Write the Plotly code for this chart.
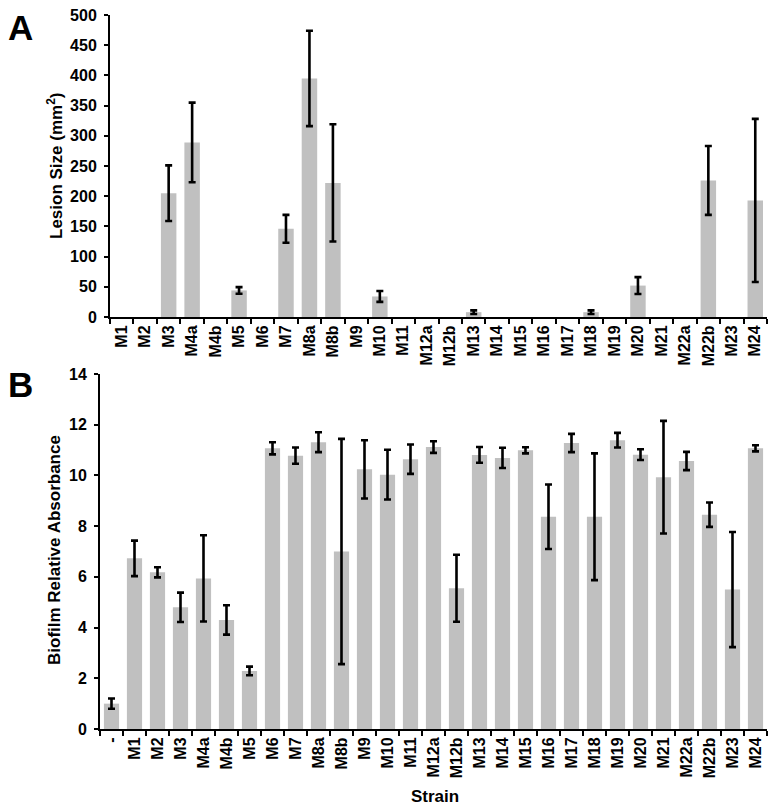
import plotly.graph_objects as go

# Panel A: lesion size
strains_a = ["M1","M2","M3","M4a","M4b","M5","M6","M7","M8a","M8b","M9","M10","M11",
             "M12a","M12b","M13","M14","M15","M16","M17","M18","M19","M20","M21",
             "M22a","M22b","M23","M24"]
lesion = [0,0,205,289,0,44,0,146,395,222,0,34,0,0,0,8,0,0,0,0,8,0,52,0,0,226,0,193]
lesion_err = [0,0,46,66,0,5.5,0,23,79,97,0,9,0,0,0,3,0,0,0,0,3,0,14,0,0,57,0,135]

# Panel B: biofilm
strains_b = ["-","M1","M2","M3","M4a","M4b","M5","M6","M7","M8a","M8b","M9","M10","M11",
             "M12a","M12b","M13","M14","M15","M16","M17","M18","M19","M20","M21",
             "M22a","M22b","M23","M24"]
biofilm = [1.0,6.73,6.18,4.8,5.94,4.3,2.29,11.07,10.78,11.31,7.0,10.24,10.03,10.64,
           11.12,5.55,10.81,10.69,10.99,8.37,11.28,8.37,11.39,10.82,9.93,10.57,8.45,5.5,11.07]
biofilm_err = [0.2,0.7,0.2,0.58,1.7,0.58,0.17,0.24,0.32,0.39,4.44,1.15,0.98,0.58,
               0.23,1.32,0.31,0.4,0.12,1.27,0.36,2.5,0.29,0.21,2.22,0.36,0.48,2.27,0.12]

BAR = "#c0c0c0"
FONT = "Liberation Sans"
OFF = 8  # default page body margin
W, H = 777 - OFF, 808 - OFF


def px(x):
    return (x - OFF) / W


def py(y):
    return 1 - (y - OFF) / H


fig = go.Figure()
fig.add_trace(go.Bar(
    x=strains_a, y=[v if v > 0 else None for v in lesion],
    marker=dict(color=BAR, line=dict(width=0)),
    error_y=dict(type="data", array=[e if e > 0 else None for e in lesion_err],
                 color="black", thickness=2.6, width=3.5),
    xaxis="x", yaxis="y", showlegend=False))
fig.add_trace(go.Bar(
    x=strains_b, y=biofilm, marker=dict(color=BAR, line=dict(width=0)),
    error_y=dict(type="data", array=biofilm_err, color="black", thickness=2.6, width=3.5),
    xaxis="x2", yaxis="y2", showlegend=False))

tickfont = dict(family=FONT, size=16, color="black", weight="bold")
ytickfont = dict(family=FONT, size=16, color="black", weight="bold")
axcommon = dict(showline=True, linecolor="black", linewidth=2, ticks="outside",
                tickcolor="black", tickwidth=2, showgrid=False, zeroline=False,
                automargin=False, ticklabeloverflow="allow")

fig.update_layout(
    width=W, height=H, margin=dict(l=0, r=0, t=0, b=0),
    plot_bgcolor="white", paper_bgcolor="white", bargap=0.34,
    xaxis=dict(domain=[px(110), px(767)], anchor="y", tickangle=-90, tickson="boundaries",
               ticklen=5, range=[-0.5, 27.5], tickfont=tickfont, **axcommon),
    yaxis=dict(domain=[py(317), py(15)], anchor="x", range=[0, 500], dtick=50,
               ticklen=4, tickfont=ytickfont, ticklabelstandoff=4, **axcommon),
    xaxis2=dict(domain=[px(100), px(767)], anchor="y2", tickangle=-90, tickson="boundaries",
                ticklen=5, range=[-0.5, 28.5], tickfont=tickfont, **axcommon),
    yaxis2=dict(domain=[py(729), py(374)], anchor="x2", range=[0, 14], dtick=2,
                ticklen=4, tickfont=ytickfont, ticklabelstandoff=4, **axcommon),
)

titlefont = dict(family=FONT, size=17, color="black", weight="bold")
ann = dict(xref="paper", yref="paper", showarrow=False, xanchor="center", yanchor="middle")
fig.add_annotation(text="Lesion Size (mm<sup>2</sup>)", x=px(55), y=py(166),
                   textangle=-90, font=titlefont, **ann)
fig.add_annotation(text="Biofilm Relative Absorbance", x=px(54), y=py(550),
                   textangle=-90, font=titlefont, **ann)
fig.add_annotation(text="Strain", x=px(435), y=py(796),
                   font=dict(family=FONT, size=17, color="black", weight="bold"), **ann)
fig.add_annotation(text="A", x=px(20), y=py(27),
                   font=dict(family=FONT, size=35, color="black", weight="bold"), **ann)
fig.add_annotation(text="B", x=px(20), y=py(385),
                   font=dict(family=FONT, size=35, color="black", weight="bold"), **ann)

fig.write_html("out.html")
